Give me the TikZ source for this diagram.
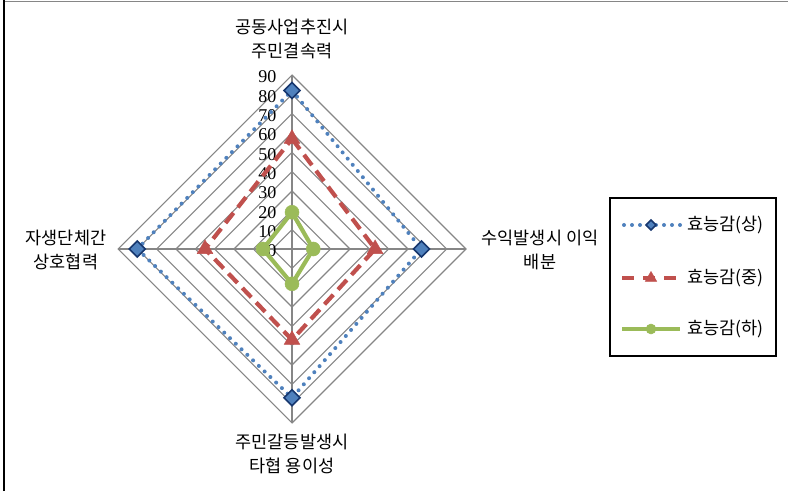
\documentclass[tikz,border=0pt]{standalone}
\usepackage{fontspec}
\setmainfont{Liberation Serif}
\newfontfamily\krfont{Noto Sans CJK KR}
\definecolor{gridgray}{RGB}{134, 134, 134}
\definecolor{highblue}{RGB}{79, 129, 189}
\definecolor{highnavy}{RGB}{23, 55, 110}
\definecolor{midred}{RGB}{192, 80, 77}
\definecolor{lowgreen}{RGB}{155, 187, 89}

\begin{document}
\begin{tikzpicture}[x=1pt, y=1pt,
        ring/.style     = {draw=gridgray, line width=1.1pt},
        highline/.style = {highblue, line width=4pt, line cap=round, dash pattern=on 0pt off 8pt},
        midline/.style  = {midred, line width=4.2pt, dash pattern=on 13pt off 7pt},
        lowline/.style  = {lowgreen, line width=4.2pt, line join=round},
        highmark/.style = {draw=highnavy, fill=highblue, line width=1.6pt},
        midmark/.style  = {draw=midred, fill=midred, line width=0.5pt},
        lowmark/.style  = {draw=lowgreen, fill=lowgreen, line width=0.5pt},
        krlabel/.style  = {align=center, font=\krfont\fontsize{17.5}{24}\selectfont, inner sep=0pt},
        ticklabel/.style= {anchor=east, font=\fontsize{18}{18}\selectfont, inner sep=0pt}]
    \useasboundingbox (0,0) rectangle (788,491);
    % frame
    \draw[gridgray, line width=1pt] (4,489.5) -- (788,489.5);
    \draw[black, line width=2.2pt] (4,0) -- (4,490.5);

    \begin{scope}[shift={(292,242)}]
        % grid
        \foreach \v [evaluate=\v as \r using \v*19.33] in {1,...,9}
            \draw[ring] (0:\r) -- (90:\r) -- (180:\r) -- (270:\r) -- cycle;
        \draw[ring] (0:174) -- (180:174);
        \draw[ring] (90:174) -- (270:174);
        \foreach \v in {0,10,...,90}
            \node[ticklabel] at (-15.5, \v*1.933-2) {\v};

        % data
        \foreach \ang/\val/\name in {90/82/ht, 0/67/hr, 270/77/hb, 180/80/hl,
                                     90/57/mt, 0/43/mr, 270/47/mb, 180/45/ml,
                                     90/19/lt, 0/11/lr, 270/18/lb, 180/15/ll}
            \coordinate (\name) at (\ang:\val*1.933);

        \draw[highline] (ht) -- (hr) -- (hb) -- (hl) -- cycle;
        \draw[midline]  (mt) -- (mr) -- (mb) -- (ml) -- cycle;
        \draw[lowline]  (lt) -- (lr) -- (lb) -- (ll) -- cycle;

        \foreach \p in {ht,hr,hb,hl}
            \filldraw[highmark] (\p) +(0,8) -- +(8,0) -- +(0,-8) -- +(-8,0) -- cycle;
        \foreach \p in {mt,mr,mb,ml}
            \filldraw[midmark]  (\p) +(90:9) -- +(210:9) -- +(330:9) -- cycle;
        \foreach \p in {lt,lr,lb,ll}
            \filldraw[lowmark]  (\p) circle (7);
    \end{scope}

    % axis names
    \node[krlabel] (topname)    at (292,452.5) {공동사업추진시\\주민결속력};
    \node[krlabel] (rightname)  at (540,241.5) {수익발생시 이익\\배분};
    \node[krlabel] (bottomname) at (292,37)    {주민갈등발생시\\타협 용이성};
    \node[krlabel] (leftname)   at (66,241)    {자생단체간\\상호협력};

    % legend
    \draw[black, line width=1.2pt] (610,135) rectangle (776,293);
    \draw[highline] (624,266) -- (680,266);
    \filldraw[highmark] (651,266) +(0,5) -- +(5,0) -- +(0,-5) -- +(-5,0) -- cycle;
    \draw[midred, line width=4.2pt, dash pattern=on 12pt off 9pt] (622,213) -- (680,213);
    \filldraw[midmark] (651,213) +(90:6.5) -- +(210:6.5) -- +(330:6.5) -- cycle;
    \draw[lowline] (622,162) -- (680,162);
    \filldraw[lowmark] (651,162) circle (5);
    \node[krlabel, anchor=west] (keyhigh) at (687,266) {효능감(상)};
    \node[krlabel, anchor=west] (keymid)  at (687,213) {효능감(중)};
    \node[krlabel, anchor=west] (keylow)  at (687,162) {효능감(하)};
\end{tikzpicture}
\end{document}
